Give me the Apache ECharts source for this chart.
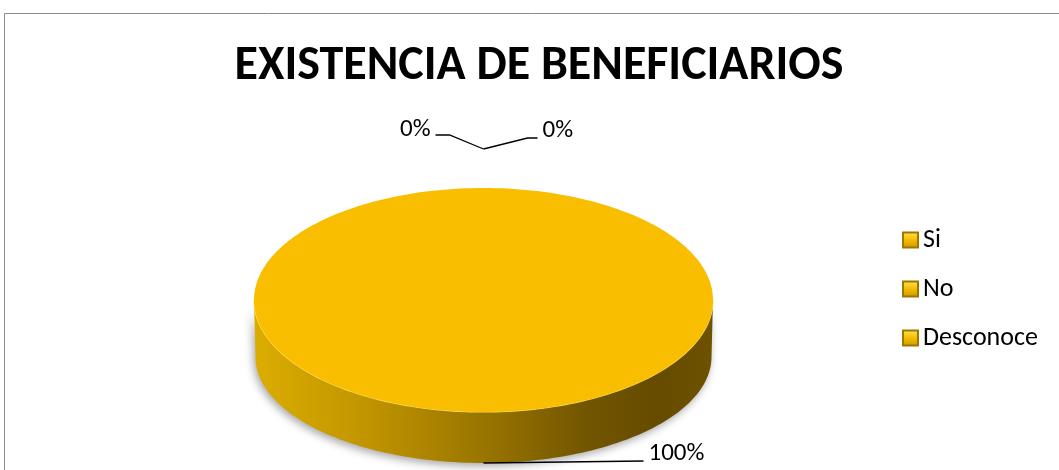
<!DOCTYPE html>
<html>
<head>
<meta charset="utf-8">
<script src="https://cdn.jsdelivr.net/npm/echarts@6/dist/echarts.min.js"></script>
<style>html,body{margin:0;padding:0;background:#fff}#c{width:1059px;height:470px}</style>
</head>
<body>
<div id="c"></div>
<script>
// ---- data ----
const titleText = 'EXISTENCIA DE BENEFICIARIOS';
const categories = ['Si', 'No', 'Desconoce'];
const values = [100, 0, 0];

// ---- style / geometry (not data) ----
const FONT = "Carlito, 'Liberation Sans', Arial, sans-serif";
const CX = 483.5, CY = 300, RX = 229.5, RY = 112;
const DEPTH = 57, RXB = 228, RYB = 106;
const TOP_COLOR = '#F9BE00';
const ZERO_LIFT = 39;
// leader-line legs relative to anchor, and text alignment
const labelLegs = [
  { legs: [[160, -2]], align: 'left', dx: 5, dy: -7 },
  { legs: [[-34, -14], [-48, -14]], align: 'right', dx: -5, dy: -5 },
  { legs: [[44, -11], [54, -11]], align: 'left', dx: 5, dy: -7 }
];

const total = values.reduce((a, b) => a + b, 0);
const cum = [];
values.reduce((acc, v, i) => { cum[i] = acc; return acc + v; }, 0);

function ellPt(cx, cy, rx, ry, t) { return [cx + rx * Math.cos(t), cy + ry * Math.sin(t)]; }
function arcPts(cx, cy, rx, ry, a, b) {
  const n = Math.max(2, Math.ceil(Math.abs(b - a) / (Math.PI / 120)));
  const pts = [];
  for (let k = 0; k <= n; k++) pts.push(ellPt(cx, cy, rx, ry, a + (b - a) * k / n));
  return pts;
}

const sideGradient = new echarts.graphic.LinearGradient(CX - RX, 0, CX + RX, 0, [
  { offset: 0, color: '#DCAD00' },
  { offset: 0.25, color: '#C09400' },
  { offset: 0.5, color: '#997500' },
  { offset: 0.72, color: '#735600' },
  { offset: 0.88, color: '#664B00' },
  { offset: 1, color: '#6E5200' }
], true);

function renderSlice(i) {
  return function (params, api) {
    const start = -Math.PI / 2 + 2 * Math.PI * cum[i] / total;
    const end = start + 2 * Math.PI * values[i] / total;
    const children = [];
    if (values[i] > 0) {
      [0, 2 * Math.PI, -2 * Math.PI].forEach(function (off) {
        const a = Math.max(start, off), b = Math.min(end, off + Math.PI);
        if (b > a) {
          const pts = arcPts(CX, CY, RX, RY, a, b).concat(arcPts(CX, CY + DEPTH, RXB, RYB, b, a));
          children.push({ type: 'polygon', shape: { points: pts },
            style: { fill: sideGradient, shadowColor: 'rgba(0,0,0,0.35)', shadowBlur: 8, shadowOffsetY: 3, shadowOffsetX: -2 } });
          children.push({ type: 'polyline', shape: { points: arcPts(CX, CY, RX, RY, a, b) },
            style: { stroke: 'rgba(255,228,110,0.9)', lineWidth: 1.2, fill: null } });
        }
      });
      let top = arcPts(CX, CY, RX, RY, start, end);
      if (values[i] < total) top = [[CX, CY]].concat(top);
      children.push({ type: 'polygon', shape: { points: top }, style: { fill: TOP_COLOR } });
    }
    // label
    const tm = (start + end) / 2;
    let anchor;
    if (Math.sin(tm) > 0) anchor = ellPt(CX, CY + DEPTH, RXB, RYB, tm);
    else { anchor = ellPt(CX, CY, RX, RY, tm); anchor[1] -= ZERO_LIFT; }
    const spec = labelLegs[i];
    const line = [anchor].concat(spec.legs.map(l => [anchor[0] + l[0], anchor[1] + l[1]]));
    const last = line[line.length - 1];
    children.push({ type: 'polyline', shape: { points: line }, style: { stroke: '#000', lineWidth: 1.3, fill: null } });
    children.push({ type: 'text', x: last[0] + spec.dx, y: last[1] + spec.dy,
      style: { text: Math.round(values[i] / total * 100) + '%', fill: '#000', font: '25px ' + FONT,
        align: spec.align, verticalAlign: 'middle' } });
    return { type: 'group', children: children };
  };
}

const legendIcon = new echarts.graphic.LinearGradient(0, 0, 0, 1, [
  { offset: 0, color: '#FFE55A' }, { offset: 0.5, color: '#F4BC00' }, { offset: 1, color: '#C99600' }
]);

const chart = echarts.init(document.getElementById('c'), null, { renderer: 'canvas' });
chart.setOption({
  animation: false,
  title: {
    text: titleText, left: 539, top: 43, textAlign: 'center', padding: 0,
    textStyle: { fontFamily: FONT, fontWeight: 'bold', fontSize: 48, color: '#000' }
  },
  legend: {
    orient: 'vertical', left: 902, top: 227, padding: 0, icon: 'rect', itemWidth: 15, itemHeight: 15, itemGap: 23,
    data: categories,
    textStyle: { fontFamily: FONT, fontSize: 26, lineHeight: 25, color: '#000' }
  },
  graphic: [{ type: 'rect', shape: { x: 4.5, y: 13.5, width: 1100, height: 500 }, style: { fill: null, stroke: '#8c8c8c', lineWidth: 1 }, silent: true }],
  series: categories.map(function (name, i) {
    return {
      type: 'custom', name: name, coordinateSystem: 'none',
      itemStyle: { color: legendIcon, borderColor: '#9E7700', borderWidth: 1 },
      data: [values[i]],
      renderItem: renderSlice(i)
    };
  })
});
</script>
</body>
</html>
